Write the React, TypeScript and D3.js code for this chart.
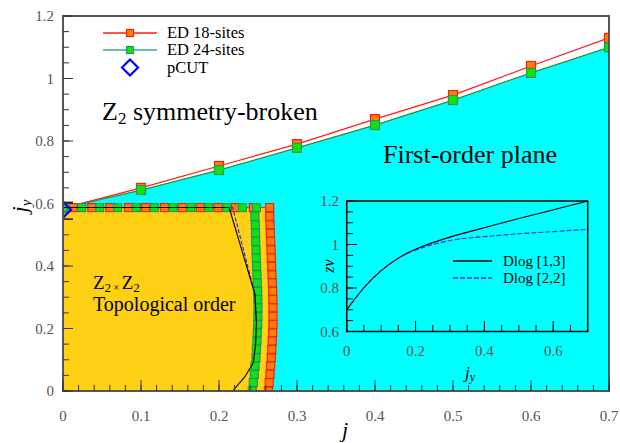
import React from 'react';
import * as d3 from 'd3';

// ---------- data ----------
const upperJ = [0, 0.1, 0.2, 0.3, 0.4, 0.5, 0.6, 0.7];
const ed18Upper = [0.585, 0.65, 0.72, 0.79, 0.87, 0.947, 1.04, 1.13];
const ed24Upper = [0.585, 0.643, 0.707, 0.778, 0.851, 0.931, 1.018, 1.1];

const rowJy = 0.587;
const ed18RowJ = [0.013, 0.037, 0.06, 0.084, 0.106, 0.13, 0.153, 0.176, 0.199, 0.221, 0.244, 0.265];
const ed24RowJ = [0, 0.024, 0.047, 0.07, 0.094, 0.117, 0.141, 0.164, 0.187, 0.21, 0.23, 0.248];

const colJy = [0.559, 0.532, 0.505, 0.479, 0.452, 0.426, 0.399, 0.372, 0.346, 0.319, 0.293, 0.266, 0.239, 0.213, 0.186, 0.16, 0.133, 0.106, 0.08, 0.053, 0.027, 0.0];
const ed24ColJ = [0.246, 0.2465, 0.2468, 0.247, 0.2475, 0.2478, 0.2482, 0.2487, 0.2491, 0.2496, 0.2498, 0.25, 0.2498, 0.2496, 0.2491, 0.2487, 0.248, 0.2474, 0.2462, 0.2452, 0.244, 0.2427];
const ed18ColJ = [0.265, 0.2654, 0.2659, 0.2663, 0.2667, 0.2671, 0.2675, 0.2679, 0.2684, 0.2688, 0.269, 0.2692, 0.2692, 0.2692, 0.2688, 0.2683, 0.2677, 0.2671, 0.2662, 0.2654, 0.2644, 0.2633];

const dlogBoundaryJ = [0, 0.213, 0.246, 0.248, 0.247, 0.244, 0.233, 0.2175];
const dlogBoundaryJy = [0.587, 0.587, 0.31, 0.22, 0.15, 0.09, 0.045, 0];
const dlog22BoundaryJ = [0, 0.2175, 0.246, 0.248];
const dlog22BoundaryJy = [0.587, 0.587, 0.31, 0.22];

const pcutJ = 0;
const pcutJy = 0.58;
const pcutErrLow = 0.55;
const pcutErrHigh = 0.604;

const xTickLabels = ['0', '0.1', '0.2', '0.3', '0.4', '0.5', '0.6', '0.7'];
const yTickLabels = ['0', '0.2', '0.4', '0.6', '0.8', '1', '1.2'];

const insetX = [0, 0.05, 0.1, 0.15, 0.2, 0.3, 0.4, 0.5, 0.6, 0.7];
const dlog13 = [0.7, 0.806, 0.883, 0.94, 0.982, 1.036, 1.077, 1.12, 1.159, 1.2];
const dlog22 = [0.7, 0.806, 0.883, 0.94, 0.978, 1.024, 1.036, 1.05, 1.059, 1.07];
const insetXTickLabels = ['0', '0.2', '0.4', '0.6'];
const insetYTickLabels = ['0.6', '0.8', '1', '1.2'];

// ---------- styles ----------
const FONT = "'Liberation Serif', 'Times New Roman', Times, serif";
const AXIS = '#555';
const TICKTXT = '#555';
const CYAN = '#00ffff';
const YELLOW = '#ffd014';
const RED = '#ff1a1a';
const ORANGE = '#ff8000';
const GREENF = '#11e011';
const GREENS = '#1f9a5a';
const GREENLINE = '#2a8f3a';
const TEAL = '#6fb8b8';

export default function App() {
  const x = d3.scaleLinear().domain([0, 0.7]).range([63, 609]);
  const y = d3.scaleLinear().domain([0, 1.2]).range([391, 16]);
  const ix = d3.scaleLinear().domain([0, 0.7]).range([346.7, 587.7]);
  const iy = d3.scaleLinear().domain([0.6, 1.2]).range([331.5, 201]);

  const line = d3.line<[number, number]>().x(d => x(d[0])).y(d => y(d[1]));
  const zip = (a: number[], b: number[]) => a.map((v, i) => [v, b[i]] as [number, number]);

  const up18 = zip(upperJ, ed18Upper);
  const up24 = zip(upperJ, ed24Upper);
  const row18 = ed18RowJ.map(j => [j, rowJy] as [number, number]);
  const row24 = ed24RowJ.map(j => [j, rowJy] as [number, number]);
  const col18 = zip(ed18ColJ, colJy);
  const col24 = zip(ed24ColJ, colJy);

  const cyanPoly: [number, number][] = [...up24, [0.7, 0], [0, 0]];
  const yellowPoly: [number, number][] = [[0, 0], [0, rowJy], ...row18, ...col18];

  const bnd = zip(dlogBoundaryJ, dlogBoundaryJy);
  const bnd22 = zip(dlog22BoundaryJ, dlog22BoundaryJy);

  const ins13 = d3.line<number>().x((_, i) => ix(insetX[i])).y(d => iy(d)).curve(d3.curveBasis)(dlog13);
  const ins22 = d3.line<number>().x((_, i) => ix(insetX[i])).y(d => iy(d)).curve(d3.curveBasis)(dlog22);

  const xMinor = d3.range(0, 0.7001, 0.02);
  const xMajor = d3.range(0, 0.7001, 0.1);
  const yMinor = d3.range(0, 1.2001, 0.05);
  const yMajor = d3.range(0, 1.2001, 0.2);
  const ixMinor = d3.range(0, 0.7001, 0.05);
  const ixMajor = d3.range(0, 0.7001, 0.2);
  const iyMinor = d3.range(0.6, 1.2001, 0.05);
  const iyMajor = d3.range(0.6, 1.2001, 0.2);

  const sq = (p: [number, number], k: string, fill: string, stroke: string, s = 8) => (
    <rect key={k} x={x(p[0]) - s / 2} y={y(p[1]) - s / 2} width={s} height={s} fill={fill} stroke={stroke} strokeWidth={1.2} />
  );

  const px = x(pcutJ), py = y(pcutJy);

  return (
    <svg width={620} height={443} fontFamily={FONT} style={{ position: 'absolute', left: 0, top: 0, background: '#fff', fontFamily: FONT }}>
      <defs>
        <clipPath id="plot"><rect x={63} y={16} width={546} height={375} /></clipPath>
      </defs>
      <g clipPath="url(#plot)">
        <path d={line(cyanPoly) + 'Z'} fill={CYAN} />
        <path d={line(yellowPoly) + 'Z'} fill={YELLOW} />
        <path d={line(up18) || ''} fill="none" stroke={RED} strokeWidth={1.2} />
        <path d={line(up24) || ''} fill="none" stroke={GREENLINE} strokeWidth={1.2} />
        <path d={line([...row18, ...col18]) || ''} fill="none" stroke={RED} strokeWidth={1} />
        <path d={line([...row24, ...col24]) || ''} fill="none" stroke={GREENLINE} strokeWidth={1} />
        {up18.map((p, i) => sq(p, 'u18' + i, ORANGE, RED, 9))}
        {row18.map((p, i) => sq(p, 'r18' + i, ORANGE, RED))}
        {col18.map((p, i) => sq(p, 'c18' + i, ORANGE, RED))}
        {up24.map((p, i) => sq(p, 'u24' + i, GREENF, GREENS, 9))}
        {row24.map((p, i) => sq(p, 'r24' + i, GREENF, GREENS))}
        {col24.map((p, i) => sq(p, 'c24' + i, GREENF, GREENS))}
        <path d={line(bnd22) || ''} fill="none" stroke="#2020ff" strokeWidth={1.1} strokeDasharray="4,2" />
        <path d={line(bnd) || ''} fill="none" stroke="#000" strokeWidth={1.1} />
        <line x1={px} x2={px} y1={y(pcutErrLow)} y2={y(pcutErrHigh)} stroke="#000" strokeWidth={1.2} />
        <line x1={px - 10} x2={px + 10} y1={y(pcutErrLow)} y2={y(pcutErrLow)} stroke="#000" strokeWidth={1.2} />
        <line x1={px - 10} x2={px + 10} y1={y(pcutErrHigh)} y2={y(pcutErrHigh)} stroke="#000" strokeWidth={1.2} />
        <path d={`M${px - 8},${py} L${px},${py - 8} L${px + 8},${py} L${px},${py + 8} Z`} fill="none" stroke="#0000ff" strokeWidth={2.2} />
      </g>

      <rect x={63} y={16} width={546} height={375} fill="none" stroke={AXIS} strokeWidth={2} />
      {xMinor.map((v, i) => <line key={'xm' + i} x1={x(v)} x2={x(v)} y1={391} y2={385} stroke="#333" strokeWidth={1} />)}
      {xMajor.map((v, i) => <line key={'xM' + i} x1={x(v)} x2={x(v)} y1={391} y2={380} stroke="#333" strokeWidth={1} />)}
      {yMinor.map((v, i) => <line key={'ym' + i} x1={63} x2={69} y1={y(v)} y2={y(v)} stroke="#333" strokeWidth={1} />)}
      {yMajor.map((v, i) => <line key={'yM' + i} x1={63} x2={73} y1={y(v)} y2={y(v)} stroke="#333" strokeWidth={1} />)}
      {xMajor.map((v, i) => (
        <text key={'xl' + i} x={x(v)} y={421} fontSize={15} fill={TICKTXT} textAnchor="middle">{xTickLabels[i]}</text>
      ))}
      {yMajor.map((v, i) => (
        <text key={'yl' + i} x={54} y={y(v) + 5} fontSize={15} fill={TICKTXT} textAnchor="end">{yTickLabels[i]}</text>
      ))}
      <text x={345} y={437} fontSize={22} fontStyle="italic" textAnchor="middle">j</text>
      <text transform="translate(27,206) rotate(-90)" fontSize={22} fontStyle="italic" textAnchor="middle">
        j<tspan fontSize={15} dy={4}>y</tspan>
      </text>

      <line x1={103} x2={157} y1={33} y2={33} stroke={RED} strokeWidth={1.5} />
      <rect x={126.5} y={29.5} width={7} height={7} fill={ORANGE} stroke={RED} strokeWidth={1.2} />
      <text x={167} y={38} fontSize={16.5}>ED 18-sites</text>
      <line x1={103} x2={157} y1={50} y2={50} stroke={TEAL} strokeWidth={2} />
      <rect x={126.5} y={46.5} width={7} height={7} fill={GREENF} stroke={GREENS} strokeWidth={1.2} />
      <text x={167} y={55} fontSize={16.5}>ED 24-sites</text>
      <path d="M122,67.5 L130,59.5 L138,67.5 L130,75.5 Z" fill="none" stroke="#0000ff" strokeWidth={2.2} />
      <text x={167} y={73} fontSize={16.5}>pCUT</text>

      <text x={102} y={120} fontSize={26}>
        Z<tspan fontSize={17} dy={4}>2</tspan><tspan dy={-4}> symmetry-broken</tspan>
      </text>
      <text x={383} y={163} fontSize={26}>First-order plane</text>
      <text x={93} y={289} fontSize={19}>
        Z<tspan fontSize={13} dy={3}>2</tspan><tspan fontSize={10} dy={-1}> × </tspan><tspan dy={-2}>Z</tspan><tspan fontSize={13} dy={3}>2</tspan>
      </text>
      <text x={93} y={311} fontSize={20}>Topological order</text>

      <path d={ins22 || ''} fill="none" stroke="#2020ff" strokeWidth={1.1} strokeDasharray="5,2" />
      <path d={ins13 || ''} fill="none" stroke="#000" strokeWidth={1.1} />
      <rect x={346.7} y={201} width={241} height={130.5} fill="none" stroke="#000" strokeWidth={1.5} />
      {ixMinor.map((v, i) => <line key={'ixm' + i} x1={ix(v)} x2={ix(v)} y1={331.5} y2={325} stroke="#000" strokeWidth={1} />)}
      {ixMajor.map((v, i) => <line key={'ixM' + i} x1={ix(v)} x2={ix(v)} y1={331.5} y2={321} stroke="#000" strokeWidth={1} />)}
      {iyMinor.map((v, i) => <line key={'iym' + i} x1={346.7} x2={353} y1={iy(v)} y2={iy(v)} stroke="#000" strokeWidth={1} />)}
      {iyMajor.map((v, i) => <line key={'iyM' + i} x1={346.7} x2={357} y1={iy(v)} y2={iy(v)} stroke="#000" strokeWidth={1} />)}
      {ixMajor.map((v, i) => (
        <text key={'ixl' + i} x={ix(v)} y={356} fontSize={15} fill={TICKTXT} textAnchor="middle">{insetXTickLabels[i]}</text>
      ))}
      {iyMajor.map((v, i) => (
        <text key={'iyl' + i} x={339} y={iy(v) + 5} fontSize={15} fill={TICKTXT} textAnchor="end">{insetYTickLabels[i]}</text>
      ))}
      <text x={470} y={378} fontSize={17} fontStyle="italic" textAnchor="middle">
        j<tspan fontSize={12} dy={3}>y</tspan>
      </text>
      <text transform="translate(334,266) rotate(-90)" fontSize={16} fontStyle="italic" textAnchor="middle">zν</text>
      <line x1={453} x2={492} y1={261} y2={261} stroke="#000" strokeWidth={1.3} />
      <text x={503} y={266} fontSize={15}>Dlog [1,3]</text>
      <line x1={453} x2={492} y1={278} y2={278} stroke="#2020ff" strokeWidth={1.3} strokeDasharray="5,2" />
      <text x={503} y={283} fontSize={15}>Dlog [2,2]</text>
    </svg>
  );
}
